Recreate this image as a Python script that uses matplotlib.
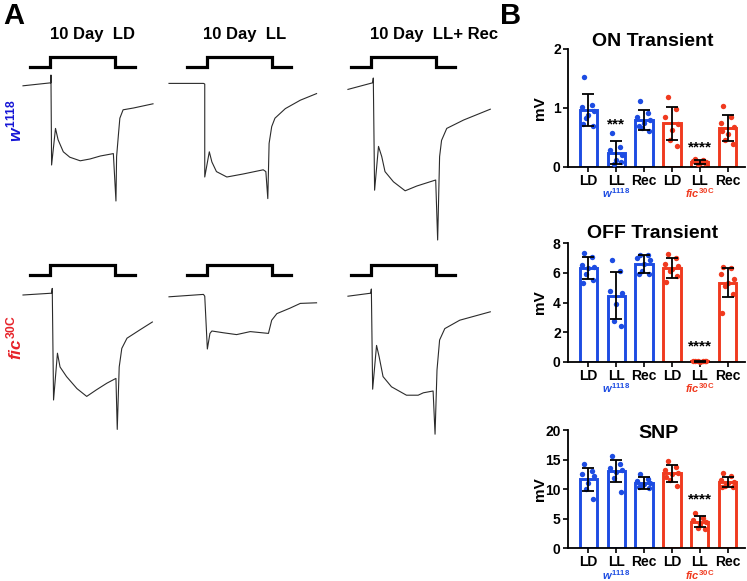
import matplotlib
matplotlib.use('Agg')
import matplotlib.pyplot as plt
import numpy as np

plt.rcParams['font.family'] = ['Liberation Sans', 'DejaVu Sans']
plt.rcParams['font.weight'] = 'bold'
plt.rcParams['mathtext.fontset'] = 'custom'
plt.rcParams['mathtext.it'] = 'Liberation Sans:italic:bold'
plt.rcParams['mathtext.rm'] = 'Liberation Sans:bold'
plt.rcParams['mathtext.bf'] = 'Liberation Sans:bold'

# ---------------- data ----------------
conditions = ['10 Day  LD', '10 Day  LL', '10 Day  LL+ Rec']
genotypes = [r'$w^{1118}$', r'$fic^{\mathrm{30C}}$']

# light stimulus (s, on/off)
stim_t = [-0.31, 0, 0, 1.0, 1.0, 1.3]
stim_v = [0, 0, 1, 1, 0, 0]

# ERG traces: time (s), voltage (mV)
w_LD_t = [-0.42, 0.01, 0.01, 0.02, 0.08, 0.12, 0.20, 0.30, 0.46, 0.61, 0.77, 0.97, 1.01, 1.02, 1.05, 1.07, 1.12, 1.28, 1.58]
w_LD_v = [-0.3, 0.2, 1.5, -13.5, -7.4, -9.3, -11.3, -12.2, -12.8, -12.5, -12.0, -11.6, -19.5, -12.1, -8.2, -5.7, -4.3, -4.0, -3.3]
w_LL_t = [-0.58, -0.05, -0.03, -0.03, 0.04, 0.08, 0.15, 0.31, 0.56, 0.87, 0.91, 0.94, 0.96, 1.00, 1.05, 1.21, 1.44, 1.69]
w_LL_v = [0.1, 0.1, 0.0, -15.5, -11.3, -13.0, -14.6, -15.5, -15.0, -14.3, -14.6, -19.1, -9.9, -7.1, -5.7, -4.1, -2.7, -1.6]
w_Rec_t = [-0.35, 0.03, 0.04, 0.06, 0.12, 0.17, 0.22, 0.35, 0.53, 0.71, 1.00, 1.03, 1.06, 1.09, 1.17, 1.43, 1.84]
w_Rec_v = [-0.9, 0.2, 1.0, -17.7, -10.4, -12.1, -14.6, -16.3, -17.8, -17.0, -16.0, -26.0, -12.1, -9.4, -7.4, -6.0, -4.2]
fic_LD_t = [-0.42, 0.02, 0.03, 0.05, 0.11, 0.15, 0.25, 0.41, 0.56, 0.71, 0.87, 1.01, 1.03, 1.06, 1.10, 1.18, 1.38, 1.57]
fic_LD_v = [0.0, 0.3, 1.1, -17.5, -9.7, -12.0, -13.6, -15.6, -16.9, -15.8, -14.7, -13.9, -22.4, -12.0, -8.9, -7.2, -5.8, -4.5]
fic_LL_t = [-0.58, -0.05, -0.03, 0.01, 0.05, 0.08, 0.26, 0.46, 0.67, 0.95, 1.00, 1.08, 1.28, 1.44, 1.69]
fic_LL_v = [-0.3, 0.1, -0.2, -9.0, -6.4, -6.0, -6.3, -6.6, -6.1, -6.4, -4.2, -3.1, -2.2, -1.4, -1.3]
fic_Rec_t = [-0.35, 0.0, 0.01, 0.03, 0.09, 0.13, 0.19, 0.32, 0.55, 0.73, 0.81, 0.96, 0.99, 1.02, 1.06, 1.14, 1.37, 1.84]
fic_Rec_v = [-0.2, 0.3, 1.0, -15.7, -8.4, -10.3, -13.6, -15.3, -16.7, -16.7, -16.3, -16.0, -23.2, -12.5, -7.5, -5.6, -4.2, -2.8]

traces = [[(w_LD_t, w_LD_v), (w_LL_t, w_LL_v), (w_Rec_t, w_Rec_v)],
          [(fic_LD_t, fic_LD_v), (fic_LL_t, fic_LL_v), (fic_Rec_t, fic_Rec_v)]]

# bar charts
bar_labels = ['LD', 'LL', 'Rec', 'LD', 'LL', 'Rec']
group_labels = [r'$w^{1118}$', r'$fic^{\mathrm{30C}}$']

on_mean = [0.96, 0.24, 0.80, 0.74, 0.085, 0.66]
on_err = [0.27, 0.19, 0.17, 0.28, 0.035, 0.215]
on_pts = [[1.52, 1.05, 1.02, 0.95, 0.88, 0.82, 0.70, 0.72],
          [0.58, 0.33, 0.28, 0.20, 0.12, 0.05, 0.08],
          [1.12, 0.92, 0.85, 0.80, 0.75, 0.65, 0.60, 0.70],
          [1.18, 0.98, 0.85, 0.72, 0.62, 0.45, 0.36],
          [0.13, 0.12, 0.10, 0.08, 0.06, 0.04, 0.07],
          [1.03, 0.85, 0.75, 0.68, 0.55, 0.45, 0.38, 0.60]]

off_mean = [6.34, 4.46, 6.60, 6.33, 0.03, 5.35]
off_err = [0.75, 1.60, 0.60, 0.68, 0.03, 1.0]
off_pts = [[7.35, 7.10, 6.55, 6.40, 6.30, 5.90, 5.55, 5.30],
           [6.90, 6.10, 4.75, 4.65, 3.90, 2.75, 2.40],
           [7.20, 7.20, 7.00, 6.90, 6.60, 6.15, 5.95, 5.95],
           [7.25, 7.00, 6.60, 6.50, 6.25, 6.10, 5.80, 5.40],
           [0.08, 0.05, 0.03, 0.02, 0.01, 0.04, 0.02],
           [6.40, 6.30, 5.90, 5.60, 5.30, 5.10, 4.60, 3.30]]

snp_mean = [11.65, 13.06, 11.08, 12.67, 4.50, 11.25]
snp_err = [1.95, 1.87, 1.0, 1.4, 0.98, 0.85]
snp_pts = [[14.2, 13.0, 12.6, 12.2, 11.0, 10.0, 8.3],
           [15.6, 14.3, 13.6, 13.2, 12.9, 11.9, 9.5],
           [12.5, 11.7, 11.4, 11.0, 10.8, 10.6, 10.2, 10.4],
           [14.8, 13.7, 13.3, 12.8, 12.6, 11.6, 10.6, 12.0],
           [6.0, 5.2, 4.7, 4.5, 4.1, 3.5, 3.2],
           [12.8, 12.2, 11.5, 11.2, 11.0, 10.6, 10.3, 10.4]]

on_stars = [(1, 0.71, '***'), (4, 0.32, '****')]
off_stars = [(4, 1.01, '****')]
snp_stars = [(4, 8.2, '****')]

# ---------------- style ----------------
BLUE = '#1d4ce2'
RED = '#f03a1f'
LBL_BLUE = '#1616d6'
LBL_RED = '#e62229'
TRACE = '#2b2b2b'
JITTER = [-0.16, 0.13, -0.24, 0.22, 0.0, -0.08, 0.18, -0.20]

W, H = 747, 581
fig = plt.figure(figsize=(W / 100, H / 100), dpi=100)


def px_axes(left, top, width, height):
    return fig.add_axes([left / W, 1 - (top + height) / H, width / W, height / H])


def px_text(x, y, s, **kw):
    fig.text(x / W, 1 - y / H, s, **kw)


# ---------------- panel A ----------------
col_on = [50.3, 206.7, 370.7]
row_base = [84, 295]
PX_S = 65.0
PX_MV = 6.0
XL = (-0.6, 1.9)
YL = (-28, 4)
for r in range(2):
    for c in range(3):
        left = col_on[c] + XL[0] * PX_S
        wid = (XL[1] - XL[0]) * PX_S
        top = row_base[r] - YL[1] * PX_MV
        hei = (YL[1] - YL[0]) * PX_MV
        ax = px_axes(left, top, wid, hei)
        t, v = traces[r][c]
        ax.plot(t, v, color=TRACE, lw=0.8)
        ax.set_xlim(*XL)
        ax.set_ylim(*YL)
        ax.axis('off')
        # stimulus
        st_top = 51.7 + r * 208.3
        axs = px_axes(left, st_top, wid, 20)
        axs.plot(stim_t, stim_v, color='black', lw=2.3, solid_joinstyle='miter')
        axs.set_xlim(*XL)
        axs.set_ylim(-0.5, 1.5)
        axs.axis('off')

for c, lab in enumerate(conditions):
    px_text([50, 203, 370][c], 34.5, lab, fontsize=12, fontweight='bold', va='center', ha='left')

px_text(14, 121, genotypes[0], fontsize=12.5, color=LBL_BLUE, rotation=90, ha='center', va='center')
px_text(14, 338, genotypes[1], fontsize=12.5, color=LBL_RED, rotation=90, ha='center', va='center')

px_text(14, 16, 'A', fontsize=21, fontweight='bold', ha='center', va='center')
px_text(511, 16, 'B', fontsize=21, fontweight='bold', ha='center', va='center')


# ---------------- panel B ----------------
def bar_panel(top, bottom, means, errs, pts, ylim, yticks, title, title_xy, stars):
    ax = px_axes(568.3, top, 745 - 568.3, bottom - top)
    x = np.arange(len(bar_labels))
    colors = [BLUE] * 3 + [RED] * 3
    ax.bar(x, means, width=0.62, facecolor='white', edgecolor=colors, linewidth=2.1, zorder=2)
    for i, p in enumerate(pts):
        xs = i + np.array(JITTER[:len(p)])
        ax.scatter(xs, p, s=15, color=colors[i], zorder=3, linewidths=0, clip_on=False)
    ax.errorbar(x, means, yerr=errs, fmt='none', ecolor='black', elinewidth=1.3,
                capsize=4.5, capthick=1.3, zorder=4)
    for (i, yv, s) in stars:
        ax.text(i, yv, s, ha='center', va='center', fontsize=11, fontweight='bold', zorder=5)
    ax.set_xlim(-0.72, 5.62)
    ax.set_ylim(*ylim)
    ax.set_yticks(yticks)
    ax.set_xticks(x)
    ax.set_xticklabels(bar_labels, fontsize=10, fontweight='bold')
    ax.tick_params(axis='y', labelsize=10, width=1.2, length=3.5, pad=2)
    ax.tick_params(axis='x', width=1.2, length=3.5, pad=1.5)
    for lab in ax.get_yticklabels():
        lab.set_fontweight('bold')
    for sp in ['top', 'right']:
        ax.spines[sp].set_visible(False)
    for sp in ['left', 'bottom']:
        ax.spines[sp].set_linewidth(1.3)
    ax.set_ylabel('mV', fontsize=11, fontweight='bold')
    ax.yaxis.set_label_coords(-0.122, 0.5)
    ax.annotate(group_labels[0], xy=(1, 0), xycoords=('data', 'axes fraction'),
                xytext=(0, -19), textcoords='offset points', ha='center', va='center',
                fontsize=8, color=BLUE)
    ax.annotate(group_labels[1], xy=(4, 0), xycoords=('data', 'axes fraction'),
                xytext=(0, -19), textcoords='offset points', ha='center', va='center',
                fontsize=8, color=RED)
    ax.patch.set_alpha(0)
    px_text(title_xy[0], title_xy[1], title, fontsize=14, fontweight='bold', ha='center', va='center')
    return ax


bar_panel(49, 166.7, on_mean, on_err, on_pts, (0, 2), [0, 1, 2], 'ON Transient', (653, 41.7), on_stars)
bar_panel(243.3, 361.7, off_mean, off_err, off_pts, (0, 8), [0, 2, 4, 6, 8], 'OFF Transient', (653, 233.3), off_stars)
bar_panel(430, 548.3, snp_mean, snp_err, snp_pts, (0, 20), [0, 5, 10, 15, 20], 'SNP', (658, 433.3), snp_stars)

fig.savefig('out.png', dpi=100)
